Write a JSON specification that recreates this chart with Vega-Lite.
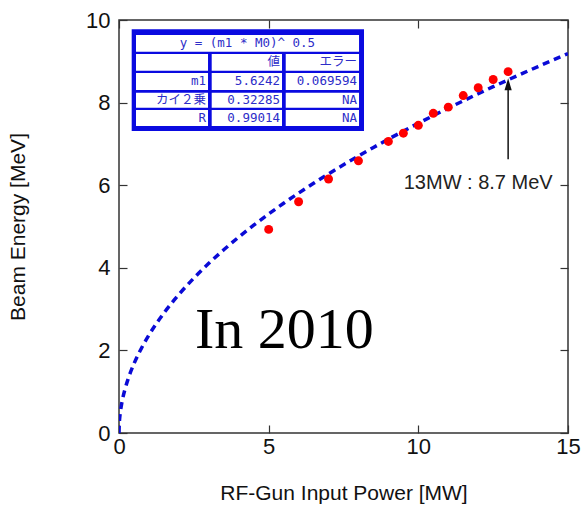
{
  "$schema": "https://vega.github.io/schema/vega-lite/v6.json",
  "width": 449,
  "height": 413,
  "autosize": {"type": "none"},
  "padding": {"left": 119, "top": 20, "right": 15, "bottom": 75},
  "background": "white",
  "config": {
    "font": "Liberation Sans",
    "view": {"stroke": "#333333", "strokeWidth": 1.5},
    "axis": {
      "domain": false,
      "grid": false,
      "tickSize": -8,
      "tickColor": "#333333",
      "tickWidth": 1.2,
      "labelFlush": false,
      "labelOverlap": false,
      "labelFont": "Liberation Sans",
      "labelFontSize": 22,
      "labelColor": "#111111",
      "titleFont": "Liberation Sans",
      "titleFontSize": 21,
      "titleFontWeight": "normal",
      "titleColor": "#111111"
    }
  },
  "datasets": {
    "measured": [
      {"power": 5, "energy": 4.93},
      {"power": 6, "energy": 5.6},
      {"power": 7, "energy": 6.15},
      {"power": 8, "energy": 6.59},
      {"power": 9, "energy": 7.06},
      {"power": 9.5, "energy": 7.26},
      {"power": 10, "energy": 7.45},
      {"power": 10.5, "energy": 7.74},
      {"power": 11, "energy": 7.89},
      {"power": 11.5, "energy": 8.17},
      {"power": 12, "energy": 8.36},
      {"power": 12.5, "energy": 8.56},
      {"power": 13, "energy": 8.75}
    ],
    "fit": [
      {"power": 0, "energy": 0},
      {"power": 0.01, "energy": 0.2372},
      {"power": 0.02, "energy": 0.3354},
      {"power": 0.05, "energy": 0.5303},
      {"power": 0.1, "energy": 0.75},
      {"power": 0.2, "energy": 1.0606},
      {"power": 0.3, "energy": 1.299},
      {"power": 0.5, "energy": 1.6769},
      {"power": 0.75, "energy": 2.0538},
      {"power": 1, "energy": 2.3715},
      {"power": 1.5, "energy": 2.9045},
      {"power": 2, "energy": 3.3539},
      {"power": 2.5, "energy": 3.7497},
      {"power": 3, "energy": 4.1076},
      {"power": 3.5, "energy": 4.4367},
      {"power": 4, "energy": 4.7431},
      {"power": 4.5, "energy": 5.0308},
      {"power": 5, "energy": 5.3029},
      {"power": 5.5, "energy": 5.5618},
      {"power": 6, "energy": 5.8091},
      {"power": 6.5, "energy": 6.0463},
      {"power": 7, "energy": 6.2745},
      {"power": 7.5, "energy": 6.4947},
      {"power": 8, "energy": 6.7077},
      {"power": 8.5, "energy": 6.9142},
      {"power": 9, "energy": 7.1147},
      {"power": 9.5, "energy": 7.3096},
      {"power": 10, "energy": 7.4995},
      {"power": 10.5, "energy": 7.6847},
      {"power": 11, "energy": 7.8655},
      {"power": 11.5, "energy": 8.0423},
      {"power": 12, "energy": 8.2152},
      {"power": 12.5, "energy": 8.3847},
      {"power": 13, "energy": 8.5507},
      {"power": 13.5, "energy": 8.7136},
      {"power": 14, "energy": 8.8735},
      {"power": 14.5, "energy": 9.0306},
      {"power": 15, "energy": 9.1849}
    ],
    "arrow": [
      {"power": 13, "from": 6.63, "to": 8.45, "head": 8.443}
    ],
    "note": [
      {"power": 12, "energy": 5.9, "label": "13MW : 8.7 MeV"}
    ],
    "year": [
      {"power": 2.54, "energy": 2.06, "label": "In 2010"}
    ],
    "table_frame": [
      {"x0": 0.424, "x1": 8.185, "y0": 7.312, "y1": 9.775}
    ],
    "table_cells": [
      {"x0": 0.568, "x1": 8.019, "y0": 9.232, "y1": 9.637},
      {"x0": 0.568, "x1": 2.974, "y0": 8.772, "y1": 9.177},
      {"x0": 3.097, "x1": 5.446, "y0": 8.772, "y1": 9.177},
      {"x0": 5.57, "x1": 8.019, "y0": 8.772, "y1": 9.177},
      {"x0": 0.568, "x1": 2.974, "y0": 8.305, "y1": 8.717},
      {"x0": 3.097, "x1": 5.446, "y0": 8.305, "y1": 8.717},
      {"x0": 5.57, "x1": 8.019, "y0": 8.305, "y1": 8.717},
      {"x0": 0.568, "x1": 2.974, "y0": 7.877, "y1": 8.24},
      {"x0": 3.097, "x1": 5.446, "y0": 7.877, "y1": 8.24},
      {"x0": 5.57, "x1": 8.019, "y0": 7.877, "y1": 8.24},
      {"x0": 0.568, "x1": 2.974, "y0": 7.433, "y1": 7.821},
      {"x0": 3.097, "x1": 5.446, "y0": 7.433, "y1": 7.821},
      {"x0": 5.57, "x1": 8.019, "y0": 7.433, "y1": 7.821}
    ],
    "table_title": [
      {"x": 4.29, "y": 9.436, "label": "y = (m1 * M0)^ 0.5"}
    ],
    "table_text": [
      {"x": 5.379, "y": 8.976, "label": "値"},
      {"x": 7.952, "y": 8.976, "label": "エラー"},
      {"x": 2.907, "y": 8.511, "label": "m1"},
      {"x": 5.379, "y": 8.511, "label": "5.6242"},
      {"x": 7.952, "y": 8.511, "label": "0.069594"},
      {"x": 2.907, "y": 8.058, "label": "カイ２乗"},
      {"x": 5.379, "y": 8.058, "label": "0.32285"},
      {"x": 7.952, "y": 8.058, "label": "NA"},
      {"x": 2.907, "y": 7.627, "label": "R"},
      {"x": 5.379, "y": 7.627, "label": "0.99014"},
      {"x": 7.952, "y": 7.627, "label": "NA"}
    ]
  },
  "layer": [
    {
      "data": {"name": "fit"},
      "mark": {"type": "line", "color": "#0a0ad6", "strokeWidth": 3.5, "strokeDash": [7, 5], "interpolate": "monotone", "clip": true},
      "encoding": {
        "x": {"field": "power", "type": "quantitative", "scale": {"domain": [0, 15], "nice": false},
          "axis": {"orient": "bottom", "values": [0, 5, 10, 15], "title": "RF-Gun Input Power [MW]", "labelPadding": 11, "titleY": 60, "titleBaseline": "middle"}},
        "y": {"field": "energy", "type": "quantitative", "scale": {"domain": [0, 10], "nice": false},
          "axis": {"orient": "left", "values": [0, 2, 4, 6, 8, 10], "title": "Beam Energy [MeV]", "labelPadding": 17, "titleX": -101, "titleBaseline": "middle"}}
      }
    },
    {
      "data": {"name": "measured"},
      "mark": {"type": "point", "filled": true, "color": "#ff0000", "opacity": 1, "size": 80, "strokeWidth": 0},
      "encoding": {
        "x": {"field": "power", "type": "quantitative", "scale": {"domain": [0, 15], "nice": false},
          "axis": {"orient": "top", "values": [0, 5, 10, 15], "labels": false, "title": null}},
        "y": {"field": "energy", "type": "quantitative", "scale": {"domain": [0, 10], "nice": false},
          "axis": {"orient": "right", "values": [0, 2, 4, 6, 8, 10], "labels": false, "title": null}}
      }
    },
    {
      "data": {"name": "arrow"},
      "mark": {"type": "rule", "color": "#111111", "strokeWidth": 1.5},
      "encoding": {
        "x": {"field": "power", "type": "quantitative", "scale": {"domain": [0, 15], "nice": false}, "axis": null},
        "y": {"field": "from", "type": "quantitative", "scale": {"domain": [0, 10], "nice": false}, "axis": null},
        "y2": {"field": "to"}
      }
    },
    {
      "data": {"name": "arrow"},
      "mark": {"type": "point", "shape": "M0,-1L0.6,1L-0.6,1Z", "filled": true, "color": "#111111", "opacity": 1, "size": 144, "strokeWidth": 0},
      "encoding": {
        "x": {"field": "power", "type": "quantitative", "scale": {"domain": [0, 15], "nice": false}, "axis": null},
        "y": {"field": "head", "type": "quantitative", "scale": {"domain": [0, 10], "nice": false}, "axis": null}
      }
    },
    {
      "data": {"name": "note"},
      "mark": {"type": "text", "font": "Liberation Sans", "fontSize": 20, "color": "#222222", "align": "center", "baseline": "alphabetic"},
      "encoding": {
        "x": {"field": "power", "type": "quantitative", "scale": {"domain": [0, 15], "nice": false}, "axis": null},
        "y": {"field": "energy", "type": "quantitative", "scale": {"domain": [0, 10], "nice": false}, "axis": null},
        "text": {"field": "label"}
      }
    },
    {
      "data": {"name": "year"},
      "mark": {"type": "text", "font": "Liberation Serif", "fontSize": 58, "color": "#000000", "align": "left", "baseline": "alphabetic"},
      "encoding": {
        "x": {"field": "power", "type": "quantitative", "scale": {"domain": [0, 15], "nice": false}, "axis": null},
        "y": {"field": "energy", "type": "quantitative", "scale": {"domain": [0, 10], "nice": false}, "axis": null},
        "text": {"field": "label"}
      }
    },
    {
      "data": {"name": "table_frame"},
      "mark": {"type": "rect", "color": "#0a0ae0", "opacity": 1},
      "encoding": {
        "x": {"field": "x0", "type": "quantitative", "scale": {"domain": [0, 15], "nice": false}, "axis": null},
        "x2": {"field": "x1"},
        "y": {"field": "y0", "type": "quantitative", "scale": {"domain": [0, 10], "nice": false}, "axis": null},
        "y2": {"field": "y1"}
      }
    },
    {
      "data": {"name": "table_cells"},
      "mark": {"type": "rect", "color": "#ffffff", "opacity": 1},
      "encoding": {
        "x": {"field": "x0", "type": "quantitative", "scale": {"domain": [0, 15], "nice": false}, "axis": null},
        "x2": {"field": "x1"},
        "y": {"field": "y0", "type": "quantitative", "scale": {"domain": [0, 10], "nice": false}, "axis": null},
        "y2": {"field": "y1"}
      }
    },
    {
      "data": {"name": "table_title"},
      "mark": {"type": "text", "font": "DejaVu Sans Mono, Noto Sans CJK JP", "fontSize": 12.5, "color": "#2d2dc8", "align": "center", "baseline": "middle"},
      "encoding": {
        "x": {"field": "x", "type": "quantitative", "scale": {"domain": [0, 15], "nice": false}, "axis": null},
        "y": {"field": "y", "type": "quantitative", "scale": {"domain": [0, 10], "nice": false}, "axis": null},
        "text": {"field": "label"}
      }
    },
    {
      "data": {"name": "table_text"},
      "mark": {"type": "text", "font": "DejaVu Sans Mono, Noto Sans CJK JP", "fontSize": 12.5, "color": "#2d2dc8", "align": "right", "baseline": "middle"},
      "encoding": {
        "x": {"field": "x", "type": "quantitative", "scale": {"domain": [0, 15], "nice": false}, "axis": null},
        "y": {"field": "y", "type": "quantitative", "scale": {"domain": [0, 10], "nice": false}, "axis": null},
        "text": {"field": "label"}
      }
    }
  ],
  "resolve": {"axis": {"x": "independent", "y": "independent"}}
}
